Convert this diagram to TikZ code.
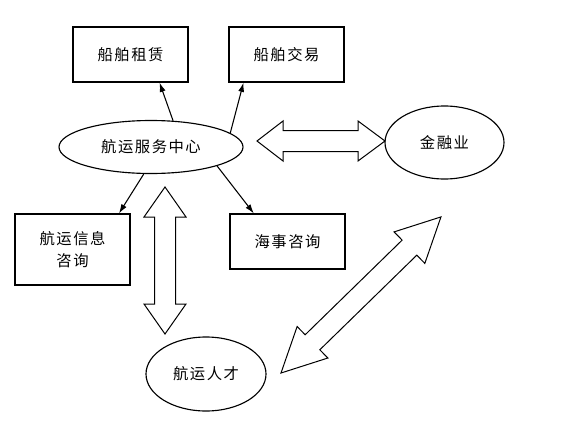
\documentclass[tikz,border=0pt]{standalone}
\usepackage{fontspec}
\newfontfamily\cjk[LetterSpace=10]{Noto Sans CJK SC}
\usetikzlibrary{shapes.geometric}
\usetikzlibrary{calc}
\usetikzlibrary{arrows.meta}
\tikzset{
	box/.style={draw, rectangle, line width=0.85pt, inner sep=2pt, minimum width=86.25pt, minimum height=41.25pt, font=\cjk\fontsize{11.5}{16}\selectfont, align=center},
	oval/.style={draw, ellipse, line width=0.85pt, inner sep=0pt, font=\cjk\fontsize{11.5}{16}\selectfont},
	% hollow double arrows
	blockarrow/.style={draw, line width=0.75pt, fill=white, line join=miter},
}

\begin{document}
\begin{tikzpicture}[x=0.75pt, y=0.75pt]
			\useasboundingbox (0,0) rectangle (566,-431);
			\node (hub) [oval, minimum width=138pt, minimum height=39.75pt] at (151,-147) {航运服务中心};
			\node (zl) [box] at (130.5,-54.5) {船舶租赁};
			\node (jy) [box] at (286.5,-54.5) {船舶交易};
			\node (jr) [oval, minimum width=89.25pt, minimum height=54.75pt] at (444.5,-142.5) {金融业};
			\node (xx) [box, minimum height=53.25pt] at (72.5,-249.5) {航运信息\\咨询};
			\node (hs) [box] at (287.5,-241.5) {海事咨询};
			\node (rc) [oval, minimum width=90pt, minimum height=55.5pt] at (206,-374) {航运人才};
			
			\begin{scope}[line width=0.8pt, black, ->, >={Latex[length=7pt, width=4.5pt]}]
				\draw (hub.50) -- ($(zl.south west)!0.75!(zl.south east)$);
				\draw (hub.10) -- ($(jy.south west)!0.13!(jy.south east)$);
				\draw (hub.255) -- ($(xx.north west)!0.9!(xx.north east)$);
				\draw (hub.344) -- ($(hs.north west)!0.21!(hs.north east)$);
			\end{scope}
			
			\coordinate (hubjr) at (257,-141);
			\coordinate (hubrc) at (165,-334);
			\coordinate (rcjr) at (281,-373);
			\draw [blockarrow, shift={(hubjr)}] (0,0) -- (26,20) -- (26,10.5) -- (101,10.5) -- (101,20) -- (128,0) -- (101,-20) -- (101,-10.5) -- (26,-10.5) -- (26,-20) -- cycle;
			\draw [blockarrow, shift={(hubrc)}, rotate=90] (0,0) -- (30,21) -- (30,10.5) -- (117,10.5) -- (117,21) -- (147,0) -- (117,-21) -- (117,-10.5) -- (30,-10.5) -- (30,-21) -- cycle;
			\draw [blockarrow, shift={(rcjr)}, rotate=44.3] (0,0) -- (44,22) -- (44,10.5) -- (179.5,10.5) -- (179.5,22) -- (223.5,0) -- (179.5,-22) -- (179.5,-10.5) -- (44,-10.5) -- (44,-22) -- cycle;
		\end{tikzpicture}
\end{document}
